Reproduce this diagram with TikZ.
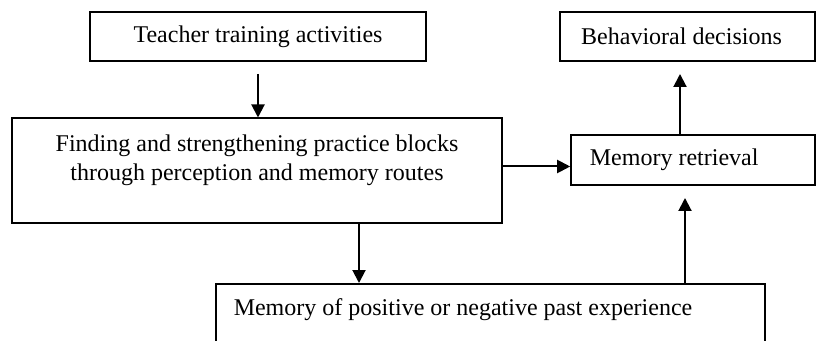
\documentclass[tikz,border=0pt]{standalone}
\usepackage{fontspec}
\setmainfont{Liberation Serif}
\usetikzlibrary{arrows.meta}

\tikzset{
  box/.style={draw,line width=1pt,inner sep=0pt,rectangle},
  flow/.style={line width=1pt,-{Triangle[length=6.5pt,width=6.5pt]}}
}

\begin{document}
\begin{tikzpicture}[font=\fontsize{12}{14.5}\selectfont]
  \useasboundingbox (0,0) rectangle (408.5pt,-170.5pt);

  \node[box,minimum width=168pt,minimum height=24.5pt] (teach) at (129pt,-18.25pt)
  {Teacher training activities};
  \node[box,minimum width=245pt,minimum height=52.5pt,
  label={[yshift=5.5pt,align=center]center:Finding and strengthening practice blocks\\through perception and memory routes}]
  (find) at (128.5pt,-85.5pt) {};
  \node[box,minimum width=127.5pt,minimum height=24.5pt,
  label={[xshift=-3pt]center:Behavioral decisions}] (behav) at (343.75pt,-18.25pt) {};
  \node[box,minimum width=122pt,minimum height=25pt,
  label={[xshift=-9.5pt]center:Memory retrieval}] (retr) at (346.6pt,-80pt) {};
  \node[box,minimum width=274.5pt,minimum height=38pt,
  label={[xshift=-13.75pt,yshift=6.25pt]center:Memory of positive or negative past experience}]
  (past) at (245.25pt,-161pt) {};

  \draw[flow,shorten <=6pt] (teach.south) -- (teach.south |- find.north);
  \draw[flow] ([yshift=2.25pt]find.east) -- ([yshift=2.25pt]find.east -| retr.west);
  \draw[flow] ([xshift=51pt]find.south) -- ([xshift=51pt]find.south |- past.north);
  \draw[flow,shorten >=6pt] ([xshift=-4.1pt]retr.south |- past.north) -- ([xshift=-4.1pt]retr.south);
  \draw[flow,shorten >=6pt] ([xshift=-6.6pt]retr.north) -- ([xshift=-6.6pt]retr.north |- behav.south);
\end{tikzpicture}
\end{document}
